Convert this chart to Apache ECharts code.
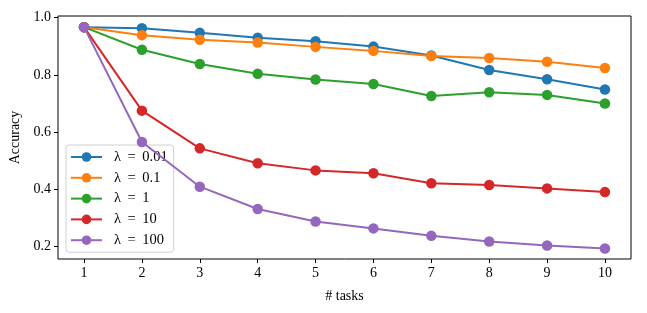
<!DOCTYPE html>
<html>
<head>
<meta charset="utf-8">
<script src="https://cdn.jsdelivr.net/npm/echarts@6/dist/echarts.min.js"></script>
<style>html,body{margin:0;padding:0;background:#fff}#c{width:647px;height:313px}</style>
</head>
<body>
<div id="c"></div>
<script>
const tasks = [1, 2, 3, 4, 5, 6, 7, 8, 9, 10];
const lambdaNames = ['λ = 0.01', 'λ = 0.1', 'λ = 1', 'λ = 10', 'λ = 100'];
const acc001 = [0.967, 0.963, 0.947, 0.930, 0.918, 0.899, 0.868, 0.817, 0.785, 0.749];
const acc01  = [0.967, 0.939, 0.923, 0.913, 0.898, 0.884, 0.866, 0.859, 0.846, 0.824];
const acc1   = [0.967, 0.888, 0.838, 0.804, 0.784, 0.768, 0.726, 0.739, 0.730, 0.700];
const acc10  = [0.967, 0.675, 0.543, 0.491, 0.466, 0.456, 0.421, 0.415, 0.403, 0.390];
const acc100 = [0.967, 0.565, 0.409, 0.331, 0.287, 0.263, 0.237, 0.217, 0.203, 0.193];
const xTicks = [1, 2, 3, 4, 5, 6, 7, 8, 9, 10];
const yTicks = [0.2, 0.4, 0.6, 0.8, 1.0];

const colors = ['#1f77b4', '#ff7f0e', '#2ca02c', '#d62728', '#9467bd'];
const allSeries = [acc001, acc01, acc1, acc10, acc100];
const font = 'Liberation Serif';

const chart = echarts.init(document.getElementById('c'), null, {renderer: 'canvas'});
chart.setOption({
  animation: false,
  backgroundColor: '#fff',
  color: colors,
  grid: {left: 58, right: 16, top: 16, bottom: 54, show: true, borderColor: '#000', borderWidth: 1, backgroundColor: 'transparent'},
  xAxis: {
    type: 'value', min: 0.55, max: 10.45,
    name: '# tasks', nameLocation: 'middle', nameGap: 30,
    nameTextStyle: {fontFamily: font, fontSize: 14, color: '#000'},
    axisLine: {show: false},
    splitLine: {show: false},
    axisTick: {show: true, length: 4, inside: false, customValues: xTicks, lineStyle: {color: '#000'}},
    axisLabel: {customValues: xTicks, fontFamily: font, fontSize: 14, color: '#000', margin: 7}
  },
  yAxis: {
    type: 'value', min: 0.156, max: 1.006,
    name: 'Accuracy', nameLocation: 'middle', nameGap: 32,
    nameTextStyle: {fontFamily: font, fontSize: 14, color: '#000'},
    axisLine: {show: false},
    splitLine: {show: false},
    axisTick: {show: true, length: 4, customValues: yTicks, lineStyle: {color: '#000'}},
    axisLabel: {customValues: yTicks, fontFamily: font, fontSize: 14, color: '#000', margin: 7,
      formatter: v => v.toFixed(1)}
  },
  legend: {
    orient: 'vertical', left: 66, top: 145,
    itemWidth: 31, itemHeight: 12, itemGap: 4.8,
    padding: [4, 6, 4, 4],
    backgroundColor: 'rgba(255,255,255,0.8)',
    borderColor: '#d0d0d0', borderWidth: 1, borderRadius: 3,
    textStyle: {fontFamily: font, fontSize: 14.5, lineHeight: 16, color: '#000', padding: [0, 0, 0, 7]},
    formatter: n => n.replace(' = ', ' \u2009=\u2009 '),
    data: lambdaNames
  },
  series: allSeries.map((d, i) => ({
    name: lambdaNames[i],
    type: 'line',
    data: tasks.map((t, j) => [t, d[j]]),
    symbol: 'circle', symbolSize: 10.5,
    lineStyle: {width: 2, color: colors[i]},
    itemStyle: {color: colors[i]},
    z: 2 + i
  }))
});
</script>
</body>
</html>
